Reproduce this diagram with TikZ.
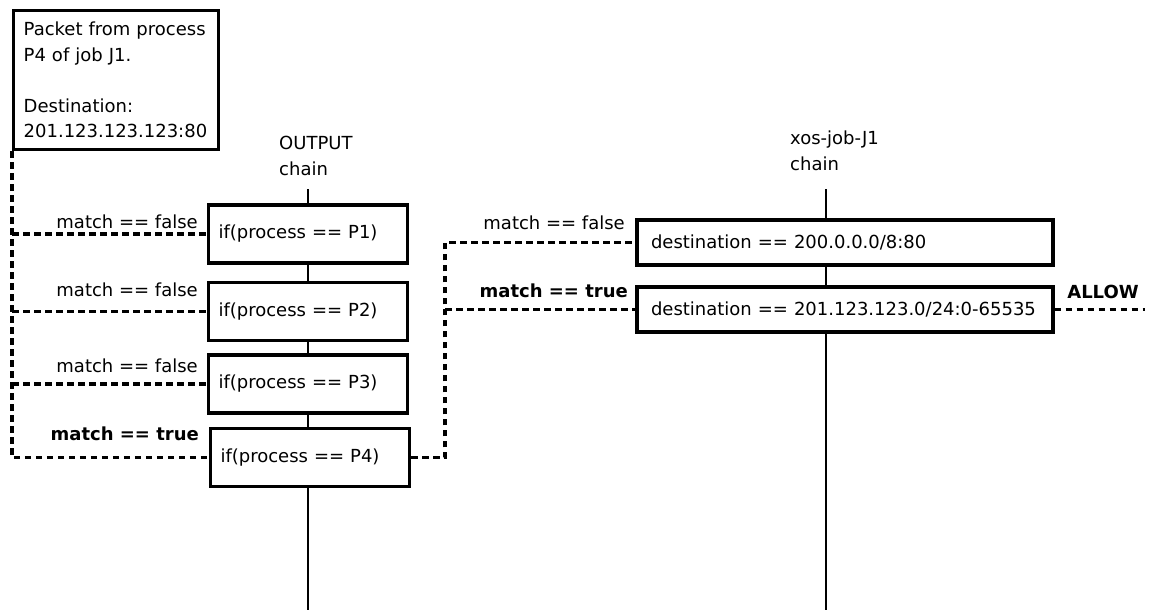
\documentclass[tikz,border=0pt]{standalone}
\usepackage{fontspec}
\setmainfont{DejaVu Sans}
\usepackage{tikz}
\usetikzlibrary{positioning, calc}

\begin{document}
\begin{tikzpicture}[x=1pt, y=-1pt,
    font=\fontsize{18}{25.5}\selectfont,
    procbox/.style={draw, line width=3.4pt, minimum height=58, text width=179, inner xsep=10, align=left},
    destbox/.style={draw, line width=3.4pt, minimum height=45, text width=388, inner xsep=14, align=left},
    chainline/.style={line width=2.8pt},
    dashline/.style={line width=3.2pt, dash pattern=on 6.5pt off 4.5pt},
    lbl/.style={inner sep=0pt, anchor=east}]
    \useasboundingbox (0,0) rectangle (1155,610);
    % Nodes
    \node[draw, line width=3.4pt, anchor=north west, text width=185, inner xsep=10, minimum height=139, align=left] (pkt) at (12,9)
        {Packet from process\\P4 of job J1.\\[25.5pt]Destination:\\201.123.123.123:80};
    \node[inner sep=0pt, anchor=west, align=left] (outlbl) at (279,156) {OUTPUT\\chain};
    \node[inner sep=0pt, anchor=west, align=left] (xoslbl) at (790,151) {xos-job-J1\\chain};

    \node[procbox] (p1) at (308,234) {if(process == P1)};
    \node[procbox] (p2) at (308,311.5) {if(process == P2)};
    \node[procbox] (p3) at (308,384) {if(process == P3)};
    \node[procbox] (p4) at (310,457.5) {if(process == P4)};

    \node[destbox] (d1) at (845,242.5) {destination == 200.0.0.0/8:80};
    \node[destbox] (d2) at (845,309.5) {destination == 201.123.123.0/24:0-65535};

    \coordinate (otop) at (308,189);
    \coordinate (obot) at (308,610);
    \coordinate (xtop) at (826,189);
    \coordinate (xbot) at (826,610);
    \coordinate (jn) at (445,242.5);
    \coordinate (allowend) at (1145,309.5);

    % Chains
    \draw[chainline] (otop) -- (p1.north);
    \draw[chainline] (p1.south) -- (p2.north);
    \draw[chainline] (p2.south) -- (p3.north);
    \draw[chainline] (p3.south) -- (p3.south |- p4.north);
    \draw[chainline] (p3.south |- p4.south) -- (obot);
    \draw[chainline] (xtop) -- (xtop |- d1.north);
    \draw[chainline] (xtop |- d1.south) -- (xtop |- d2.north);
    \draw[chainline] (xtop |- d2.south) -- (xbot);

    % Packet paths
    \draw[dashline] (pkt.south west) |- (p4.west);
    \draw[dashline] (pkt.south west |- p1.west) -- (p1.west);
    \draw[dashline] (pkt.south west |- p2.west) -- (p2.west);
    \draw[dashline] (pkt.south west |- p3.west) -- (p3.west);
    \draw[dashline] (p4.east) -| (jn) -- (d1.west);
    \draw[dashline] (jn |- d2.west) -- (d2.west);
    \draw[dashline] (d2.east) -- (allowend);

    % Labels
    \node[lbl] (mf1) at (198,222) {match == false};
    \node[lbl] (mf2) at (198,290) {match == false};
    \node[lbl] (mf3) at (198,366) {match == false};
    \node[lbl] (mt4) at (199,434) {\textbf{match == true}};
    \node[lbl] (mfd1) at (625,223) {match == false};
    \node[lbl] (mtd2) at (628,291) {\textbf{match == true}};
    \node[inner sep=0pt] (allow) at (1103,292) {\textbf{ALLOW}};
\end{tikzpicture}
\end{document}
